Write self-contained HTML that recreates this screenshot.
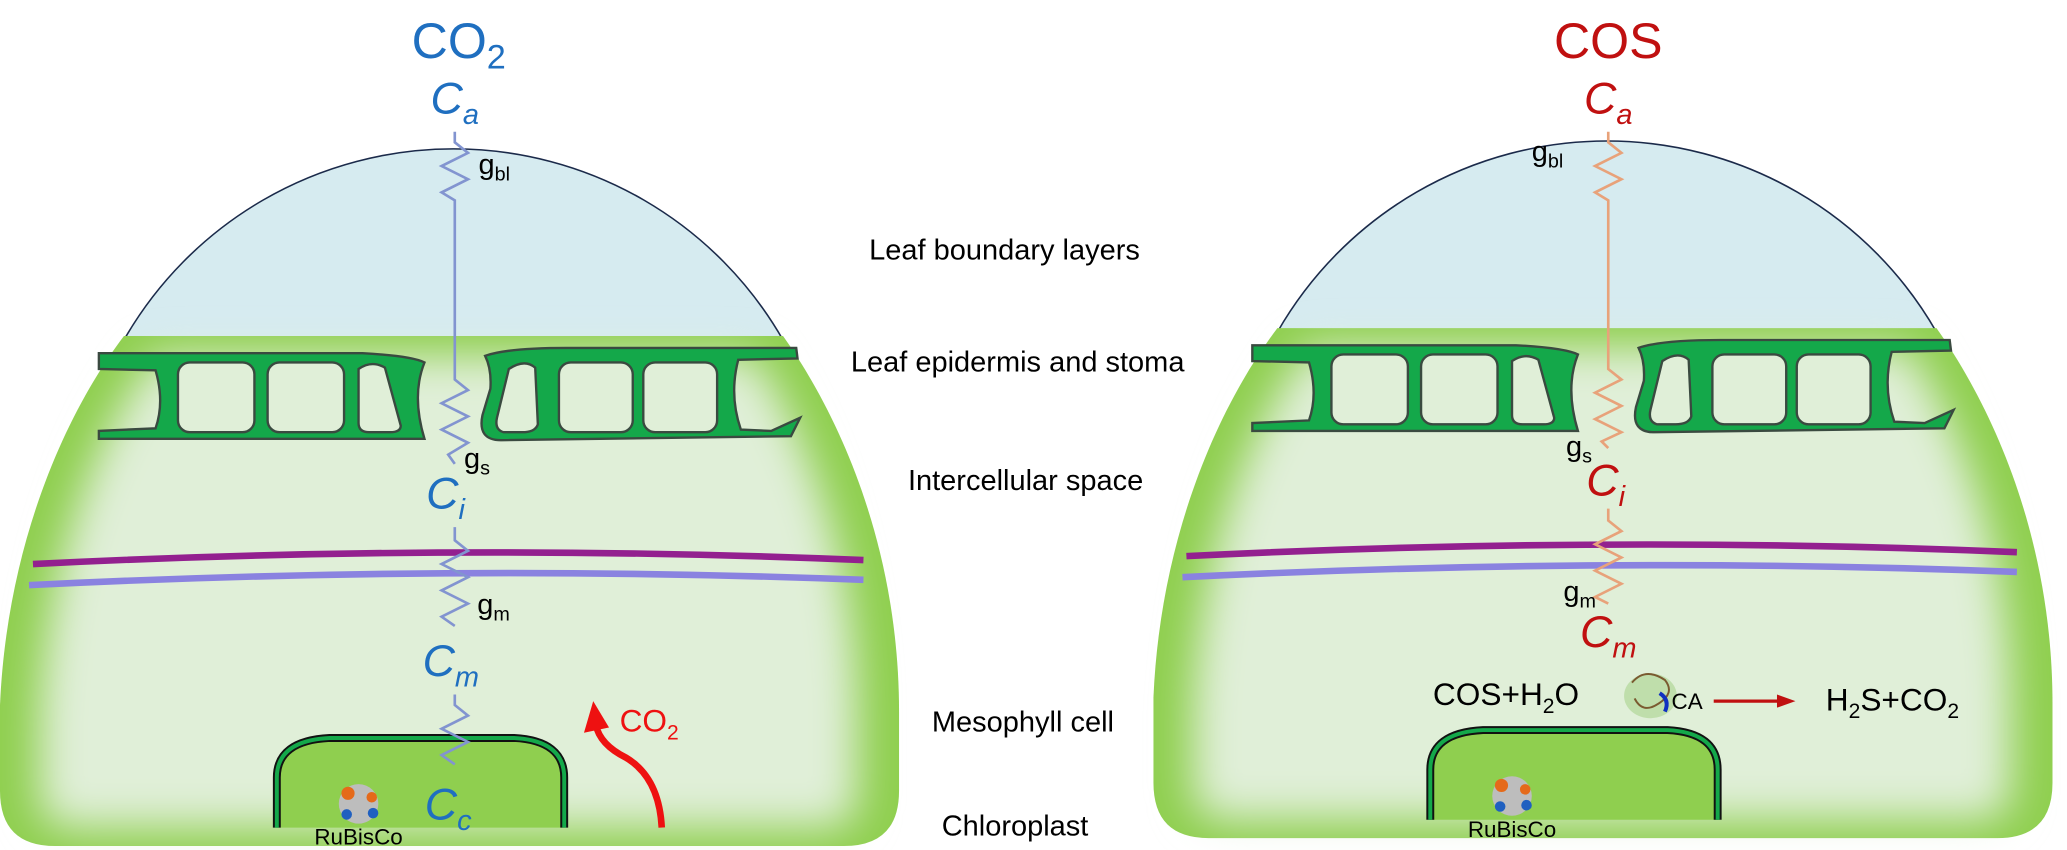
<!DOCTYPE html>
<html><head><meta charset="utf-8"><style>
html,body{margin:0;padding:0;background:#fff;}
svg{display:block;}
text{font-family:"Liberation Sans","DejaVu Sans",sans-serif;}
</style></head><body>
<svg width="2067" height="850" viewBox="0 0 1568 645" preserveAspectRatio="none" xmlns="http://www.w3.org/2000/svg">
<defs>
<filter id="bl" x="-20%" y="-20%" width="140%" height="140%"><feGaussianBlur stdDeviation="16"/></filter>
<g id="leaf">
  <path d="M94,258 A288,288 0 0 1 594,258 Z" fill="#d6ebf0" stroke="#1b2a4a" stroke-width="1.2"/>
  <path d="M94,255 L594,255 C640,320 682,420 682,540 L682,600 Q682,642 640,642 L42,642 Q0,642 0,600 L0,535 C5,420 45,320 94,255 Z" fill="#8fcf4f"/>
  <path d="M118,270 L572,270 C612,330 650,425 650,545 L650,605 Q650,628 625,628 L58,628 Q30,628 30,605 L30,545 C36,425 72,330 118,270 Z" fill="#e0efd8" filter="url(#bl)"/>
  <!-- epidermis left -->
  <path d="M75,268 L275,268 Q312,270 322,275 Q312,300 322,333 L128,333 L75,333 L75,327 L118,325 Q125,305 118,281 L75,280 Z" fill="#14a84a" stroke="#3a4a40" stroke-width="1.8"/>
  <rect x="135" y="275" width="58" height="53" rx="9" fill="#e0efd8" stroke="#3a4a40" stroke-width="1.8"/>
  <rect x="203" y="275" width="58" height="53" rx="9" fill="#e0efd8" stroke="#3a4a40" stroke-width="1.8"/>
  <path d="M272,280 Q282,273 292,279 L304,323 Q304,328 296,328 L280,328 Q272,328 272,321 Z" fill="#e0efd8" stroke="#3a4a40" stroke-width="1.8"/>
  <!-- epidermis right -->
  <path d="M368,270 Q385,264 430,264 L604,264 L605,272 L560,273 Q553,300 562,326 L585,327 L607,317 L600,331 L380,334 Q362,334 366,315 L372,295 Q373,280 368,270 Z" fill="#14a84a" stroke="#3a4a40" stroke-width="1.8"/>
  <path d="M386,280 Q398,272 406,279 L408,322 Q406,328 396,328 L382,328 Q375,326 377,317 Z" fill="#e0efd8" stroke="#3a4a40" stroke-width="1.8"/>
  <rect x="424" y="275" width="56" height="53" rx="9" fill="#e0efd8" stroke="#3a4a40" stroke-width="1.8"/>
  <rect x="488" y="275" width="56" height="53" rx="9" fill="#e0efd8" stroke="#3a4a40" stroke-width="1.8"/>
  <!-- membranes -->
  <path d="M25,428 Q345,412 655,425" fill="none" stroke="#93208f" stroke-width="5"/>
  <path d="M22,444 Q345,428 655,440" fill="none" stroke="#8a82e0" stroke-width="5"/>
  <!-- chloroplast -->
  <path d="M210,628 L210,590 Q210,562 250,560 L390,560 Q428,562 428,590 L428,628 Z" fill="#8fcf4f"/>
  <path d="M210,628 L210,590 Q210,562 250,560 L390,560 Q428,562 428,590 L428,628" fill="none" stroke="#111" stroke-width="6"/>
  <path d="M210,628 L210,590 Q210,562 250,560 L390,560 Q428,562 428,590 L428,628" fill="none" stroke="#14a84a" stroke-width="3"/>
  <circle cx="272" cy="610" r="15" fill="#bdbdbd"/>
  <circle cx="264" cy="602" r="5" fill="#e56a1a"/><circle cx="282" cy="605" r="4" fill="#e56a1a"/>
  <circle cx="263" cy="618" r="4" fill="#2060c0"/><circle cx="283" cy="617" r="4" fill="#2060c0"/>
  <text x="272" y="641" font-size="17" text-anchor="middle" fill="#000">RuBisCo</text>
</g>
</defs>

<use href="#leaf"/>
<use href="#leaf" transform="translate(875,-6)"/>

<g fill="none" stroke="#8294d0" stroke-width="2">
 <polyline points="345,100 345,108 355,116 335,126 355,136 335,146 345,152 345,288 355,296 335,306 355,316 335,326 355,336 340,345 345,352"/>
 <polyline points="345,400 345,410 355,418 335,428 355,438 335,448 355,458 335,468 345,475"/>
 <polyline points="345,527 345,535 355,543 335,553 355,563 335,573 345,580"/>
</g>
<g fill="none" stroke="#e8a27a" stroke-width="2">
 <polyline points="1220,100 1220,108 1230,116 1210,126 1230,136 1210,146 1220,152 1220,280 1230,288 1210,298 1230,308 1210,318 1230,328 1215,335 1220,340"/>
 <polyline points="1220,386 1220,395 1230,403 1210,413 1230,423 1210,433 1230,443 1210,453 1220,458"/>
</g>

<text x="348" y="44" font-size="38" fill="#1f6fc0" text-anchor="middle">CO<tspan font-size="26" dy="8">2</tspan></text>
<text x="345" y="86" font-size="34" fill="#1f6fc0" font-style="italic" text-anchor="middle">C<tspan font-size="22" dy="8">a</tspan></text>
<text x="363" y="132" font-size="22" fill="#000">g<tspan font-size="15" dy="5">bl</tspan></text>
<text x="352" y="355" font-size="22" fill="#000">g<tspan font-size="15" dy="5">s</tspan></text>
<text x="338" y="386" font-size="34" fill="#1f6fc0" font-style="italic" text-anchor="middle">C<tspan font-size="22" dy="8">i</tspan></text>
<text x="362" y="466" font-size="22" fill="#000">g<tspan font-size="15" dy="5">m</tspan></text>
<text x="342" y="513" font-size="34" fill="#1f6fc0" font-style="italic" text-anchor="middle">C<tspan font-size="22" dy="8">m</tspan></text>
<text x="340" y="622" font-size="34" fill="#1f6fc0" font-style="italic" text-anchor="middle">C<tspan font-size="22" dy="8">c</tspan></text>
<path d="M502,628 Q500,590 475,575 Q455,565 452,550" fill="none" stroke="#ee1111" stroke-width="5"/>
<polygon points="443,556 450,532 462,552" fill="#ee1111"/>
<text x="470" y="555" font-size="24" fill="#ee1111">CO<tspan font-size="16" dy="6">2</tspan></text>

<g font-size="22" fill="#000" text-anchor="middle">
<text x="762" y="197">Leaf boundary layers</text>
<text x="772" y="282">Leaf epidermis and stoma</text>
<text x="778" y="372">Intercellular space</text>
<text x="776" y="555">Mesophyll cell</text>
<text x="770" y="634">Chloroplast</text>
</g>

<text x="1220" y="44" font-size="38" fill="#c01010" text-anchor="middle">COS</text>
<text x="1220" y="86" font-size="34" fill="#c01010" font-style="italic" text-anchor="middle">C<tspan font-size="22" dy="8">a</tspan></text>
<text x="1162" y="122" font-size="22" fill="#000">g<tspan font-size="15" dy="5">bl</tspan></text>
<text x="1188" y="346" font-size="22" fill="#000">g<tspan font-size="15" dy="5">s</tspan></text>
<text x="1218" y="376" font-size="34" fill="#c01010" font-style="italic" text-anchor="middle">C<tspan font-size="22" dy="8">i</tspan></text>
<text x="1186" y="456" font-size="22" fill="#000">g<tspan font-size="15" dy="5">m</tspan></text>
<text x="1220" y="491" font-size="34" fill="#c01010" font-style="italic" text-anchor="middle">C<tspan font-size="22" dy="8">m</tspan></text>
<text x="1087" y="535" font-size="24" fill="#000">COS+H<tspan font-size="16" dy="6">2</tspan><tspan dy="-6">O</tspan></text>
<g>
 <ellipse cx="1252" cy="528" rx="20" ry="17" fill="#b7d9a0" opacity="0.8"/>
 <path d="M1238,518 q10,-12 25,-2 q8,10 -5,18 q-12,8 -18,-4" fill="none" stroke="#7a5a30" stroke-width="1.5"/>
 <path d="M1259,526 q8,5 4,14" fill="none" stroke="#1030c0" stroke-width="3"/>
</g>
<text x="1268" y="538" font-size="17" fill="#000">CA</text>
<line x1="1300" y1="532" x2="1352" y2="532" stroke="#c01010" stroke-width="2.5"/>
<polygon points="1348,527 1362,532 1348,537" fill="#c01010"/>
<text x="1385" y="539" font-size="24" fill="#000">H<tspan font-size="16" dy="6">2</tspan><tspan dy="-6">S+CO</tspan><tspan font-size="16" dy="6">2</tspan></text>
</svg>
</body></html>
